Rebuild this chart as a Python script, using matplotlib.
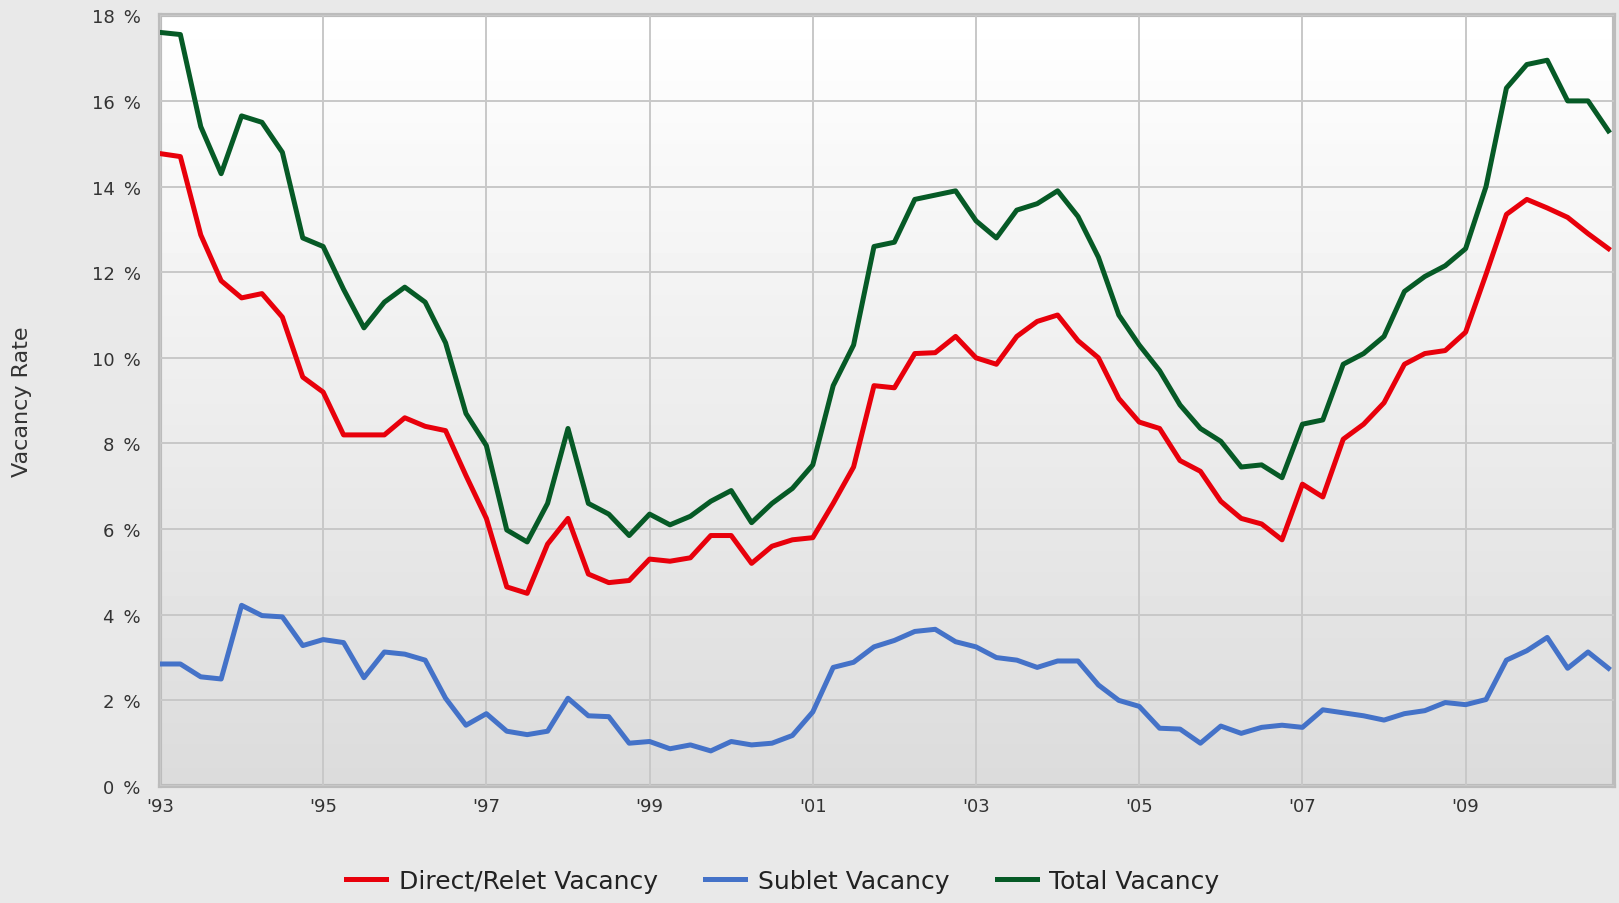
import numpy as np
import matplotlib.pyplot as plt

# quarterly readings, 1993 Q1 .. 2010 Q4
quarters = np.arange(72) / 4.0 + 1993

direct = [14.77, 14.7, 12.87, 11.8, 11.4, 11.5, 10.95, 9.55, 9.2, 8.2,
          8.2, 8.2, 8.6, 8.4, 8.3, 7.25, 6.25, 4.65, 4.5, 5.65,
          6.25, 4.95, 4.75, 4.8, 5.3, 5.25, 5.33, 5.85, 5.85, 5.2,
          5.6, 5.75, 5.8, 6.6, 7.45, 9.35, 9.3, 10.1, 10.12, 10.5,
          10.0, 9.85, 10.5, 10.85, 11.0, 10.4, 10.0, 9.05, 8.5, 8.35,
          7.6, 7.35, 6.65, 6.25, 6.12, 5.75, 7.05, 6.75, 8.1, 8.45,
          8.95, 9.85, 10.1, 10.17, 10.6, 11.95, 13.35, 13.7, 13.5, 13.28,
          12.9, 12.55]

sublet = [2.85, 2.85, 2.55, 2.5, 4.22, 3.98, 3.95, 3.28, 3.42, 3.35,
          2.53, 3.13, 3.08, 2.94, 2.05, 1.42, 1.69, 1.28, 1.2, 1.28,
          2.05, 1.64, 1.62, 1.0, 1.04, 0.87, 0.96, 0.82, 1.04, 0.96,
          1.0, 1.18, 1.73, 2.77, 2.89, 3.25, 3.4, 3.61, 3.66, 3.37,
          3.25, 3.0, 2.94, 2.77, 2.92, 2.92, 2.36, 2.0, 1.86, 1.35,
          1.33, 1.0, 1.4, 1.23, 1.37, 1.42, 1.37, 1.78, 1.71, 1.64,
          1.54, 1.69, 1.76, 1.95, 1.9, 2.02, 2.94, 3.16, 3.47, 2.75,
          3.13, 2.75]

total = [17.6, 17.55, 15.4, 14.3, 15.65, 15.5, 14.8, 12.8, 12.6, 11.6,
         10.7, 11.3, 11.65, 11.3, 10.35, 8.7, 7.95, 5.98, 5.7, 6.6,
         8.35, 6.6, 6.35, 5.85, 6.35, 6.1, 6.3, 6.65, 6.9, 6.15,
         6.6, 6.95, 7.5, 9.35, 10.3, 12.6, 12.7, 13.7, 13.8, 13.9,
         13.2, 12.8, 13.45, 13.6, 13.9, 13.3, 12.35, 11.0, 10.3, 9.7,
         8.9, 8.35, 8.05, 7.45, 7.5, 7.2, 8.45, 8.55, 9.85, 10.1,
         10.5, 11.55, 11.9, 12.15, 12.55, 14.0, 16.3, 16.85, 16.95, 16.0,
         16.0, 15.3]

year_ticks = list(range(1993, 2010, 2))
year_labels = ["'%02d" % (y % 100) for y in year_ticks]
pct_ticks = list(range(0, 19, 2))

fig = plt.figure(figsize=(16.19, 9.04), dpi=100, facecolor='#e9e9e9')
ax = fig.add_axes([0.0988, 0.1294, 0.8982, 0.8526])

# white-to-grey background
grad = np.linspace(1.0, 0.86, 256).reshape(-1, 1)
ax.imshow(grad, cmap='gray', vmin=0, vmax=1, aspect='auto',
          extent=[0, 1, 0, 1], transform=ax.transAxes, zorder=0)

ax.plot(quarters, direct, color='#e8000b', lw=3.6, label='Direct/Relet Vacancy', zorder=3)
ax.plot(quarters, sublet, color='#4472c8', lw=3.6, label='Sublet Vacancy', zorder=3)
ax.plot(quarters, total, color='#065a26', lw=3.6, label='Total Vacancy', zorder=3)

ax.set_xlim(1993, 2010.82)
ax.set_ylim(0, 18)
ax.set_xticks(year_ticks)
ax.set_xticklabels(year_labels)
ax.set_yticks(pct_ticks)
ax.set_yticklabels(['%d\u2002%%' % p for p in pct_ticks])
ax.tick_params(length=0, labelsize=13, labelcolor='#333333')
ax.tick_params(axis='y', pad=14)
ax.tick_params(axis='x', pad=8)
ax.grid(True, color='#c8c8c8', lw=1.4, zorder=1)
ax.set_axisbelow(False)
for s in ax.spines.values():
    s.set_color('#bcbcbc')
    s.set_linewidth(3)

ax.set_ylabel('Vacancy Rate', fontsize=16, color='#333333')
ax.yaxis.set_label_coords(-0.088, 0.5)

fig.legend(loc='lower center', ncol=3, frameon=False, fontsize=18,
           bbox_to_anchor=(0.4836, -0.014), handlelength=1.6, columnspacing=1.9,
           handletextpad=0.5, labelcolor='#222222')

fig.savefig('out.png', dpi=100, facecolor=fig.get_facecolor())
